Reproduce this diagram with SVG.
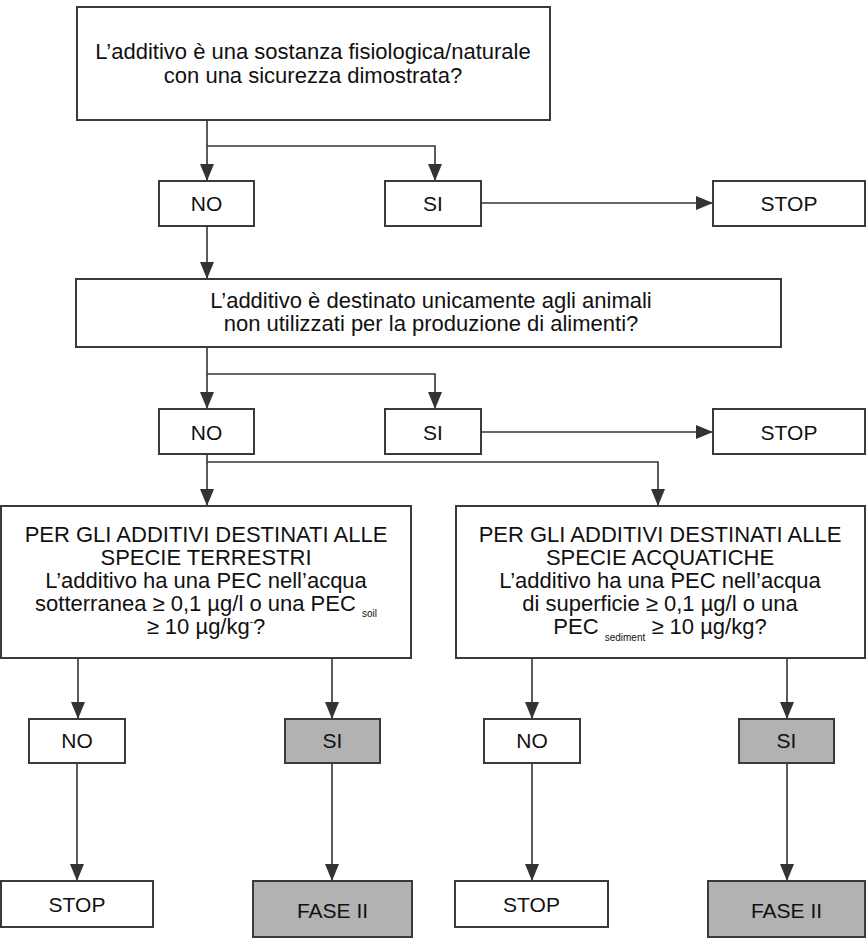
<svg xmlns="http://www.w3.org/2000/svg" width="866" height="945" viewBox="0 0 866 945">
<style>
.box{fill:#fff;stroke:#3a3a3a;stroke-width:2}
.grey{fill:#b2b2b2;stroke:#3a3a3a;stroke-width:2}
.t{font-family:"Liberation Sans",Arial,sans-serif;font-size:22px;fill:#111;text-anchor:middle}
.l{font-family:"Liberation Sans",Arial,sans-serif;font-size:21px;fill:#111;text-anchor:middle}
.sub{font-size:10px}
.c{fill:none;stroke:#333;stroke-width:1.6}
.a{marker-end:url(#arr)}
</style>
<defs>
<marker id="arr" markerUnits="userSpaceOnUse" markerWidth="18" markerHeight="14" refX="17" refY="7" orient="auto">
<path d="M0,0 L17,7 L0,14 z" fill="#333"/>
</marker>
</defs>
<rect width="866" height="945" fill="#fff"/>
<g id="connectors">
<path class="c a" d="M207,120 V181"/>
<path class="c a" d="M207,146 H435 V181"/>
<path class="c a" d="M481,203 H713"/>
<path class="c a" d="M207,226 V279"/>
<path class="c a" d="M207,347 V409"/>
<path class="c a" d="M207,374 H435 V409"/>
<path class="c a" d="M481,432 H713"/>
<path class="c a" d="M207,454 V506"/>
<path class="c a" d="M207,462 H658 V506"/>
<path class="c a" d="M78,658 V719"/>
<path class="c a" d="M332,658 V719"/>
<path class="c a" d="M532,658 V719"/>
<path class="c a" d="M787,658 V719"/>
<path class="c a" d="M77,763 V881"/>
<path class="c a" d="M332,763 V881"/>
<path class="c a" d="M532,763 V881"/>
<path class="c a" d="M787,763 V881"/>
</g>
<g id="q1">
<rect class="box" x="77" y="7" width="473" height="113"/>
<text class="t" x="313" y="59">L’additivo è una sostanza fisiologica/naturale</text>
<text class="t" x="313" y="83">con una sicurezza dimostrata?</text>
</g>
<g id="no1"><rect class="box" x="159" y="181" width="95" height="45"/><text class="l" x="206.5" y="211">NO</text></g>
<g id="si1"><rect class="box" x="385" y="181" width="96" height="45"/><text class="l" x="433" y="211">SI</text></g>
<g id="stop1"><rect class="box" x="713" y="181" width="152" height="45"/><text class="l" x="789" y="211">STOP</text></g>
<g id="q2">
<rect class="box" x="76" y="279" width="705" height="68"/>
<text class="t" x="431" y="308">L’additivo è destinato unicamente agli animali</text>
<text class="t" x="431" y="331">non utilizzati per la produzione di alimenti?</text>
</g>
<g id="no2"><rect class="box" x="159" y="409" width="95" height="45"/><text class="l" x="206.5" y="440">NO</text></g>
<g id="si2"><rect class="box" x="385" y="409" width="96" height="45"/><text class="l" x="433" y="440">SI</text></g>
<g id="stop2"><rect class="box" x="713" y="409" width="152" height="45"/><text class="l" x="789" y="440">STOP</text></g>
<g id="q3">
<rect class="box" x="1" y="506" width="410" height="152"/>
<text class="t" x="206" y="542">PER GLI ADDITIVI DESTINATI ALLE</text>
<text class="t" x="206" y="565">SPECIE TERRESTRI</text>
<text class="t" x="206" y="588">L’additivo ha una PEC nell’acqua</text>
<text class="t" x="206" y="611">sotterranea ≥ 0,1 µg/l o una PEC <tspan class="sub" dy="6">soil</tspan></text>
<text class="t" x="206" y="634">≥ 10 µg/kg<tspan class="sub" dy="-9">-</tspan><tspan dy="9">?</tspan></text>
</g>
<g id="q4">
<rect class="box" x="456" y="506" width="409" height="152"/>
<text class="t" x="660" y="542">PER GLI ADDITIVI DESTINATI ALLE</text>
<text class="t" x="660" y="565">SPECIE ACQUATICHE</text>
<text class="t" x="660" y="588">L’additivo ha una PEC nell’acqua</text>
<text class="t" x="660" y="611">di superficie ≥ 0,1 µg/l o una</text>
<text class="t" x="660" y="634">PEC <tspan class="sub" dy="7">sediment</tspan> <tspan dy="-7">≥ 10 µg/kg?</tspan></text>
</g>
<g id="no3"><rect class="box" x="29" y="719" width="96" height="44"/><text class="l" x="77" y="748">NO</text></g>
<g id="si3"><rect class="grey" x="285" y="719" width="95" height="44"/><text class="l" x="332.5" y="748">SI</text></g>
<g id="no4"><rect class="box" x="484" y="719" width="96" height="44"/><text class="l" x="532" y="748">NO</text></g>
<g id="si4"><rect class="grey" x="739" y="719" width="95" height="44"/><text class="l" x="786.5" y="748">SI</text></g>
<g id="stop3"><rect class="box" x="1" y="881" width="152" height="46"/><text class="l" x="77" y="912">STOP</text></g>
<g id="fase3"><rect class="grey" x="253" y="881" width="159" height="56"/><text class="l" x="332.5" y="918">FASE II</text></g>
<g id="stop4"><rect class="box" x="455" y="881" width="153" height="46"/><text class="l" x="531.5" y="912">STOP</text></g>
<g id="fase4"><rect class="grey" x="708" y="881" width="157" height="56"/><text class="l" x="786.5" y="918">FASE II</text></g>
</svg>
